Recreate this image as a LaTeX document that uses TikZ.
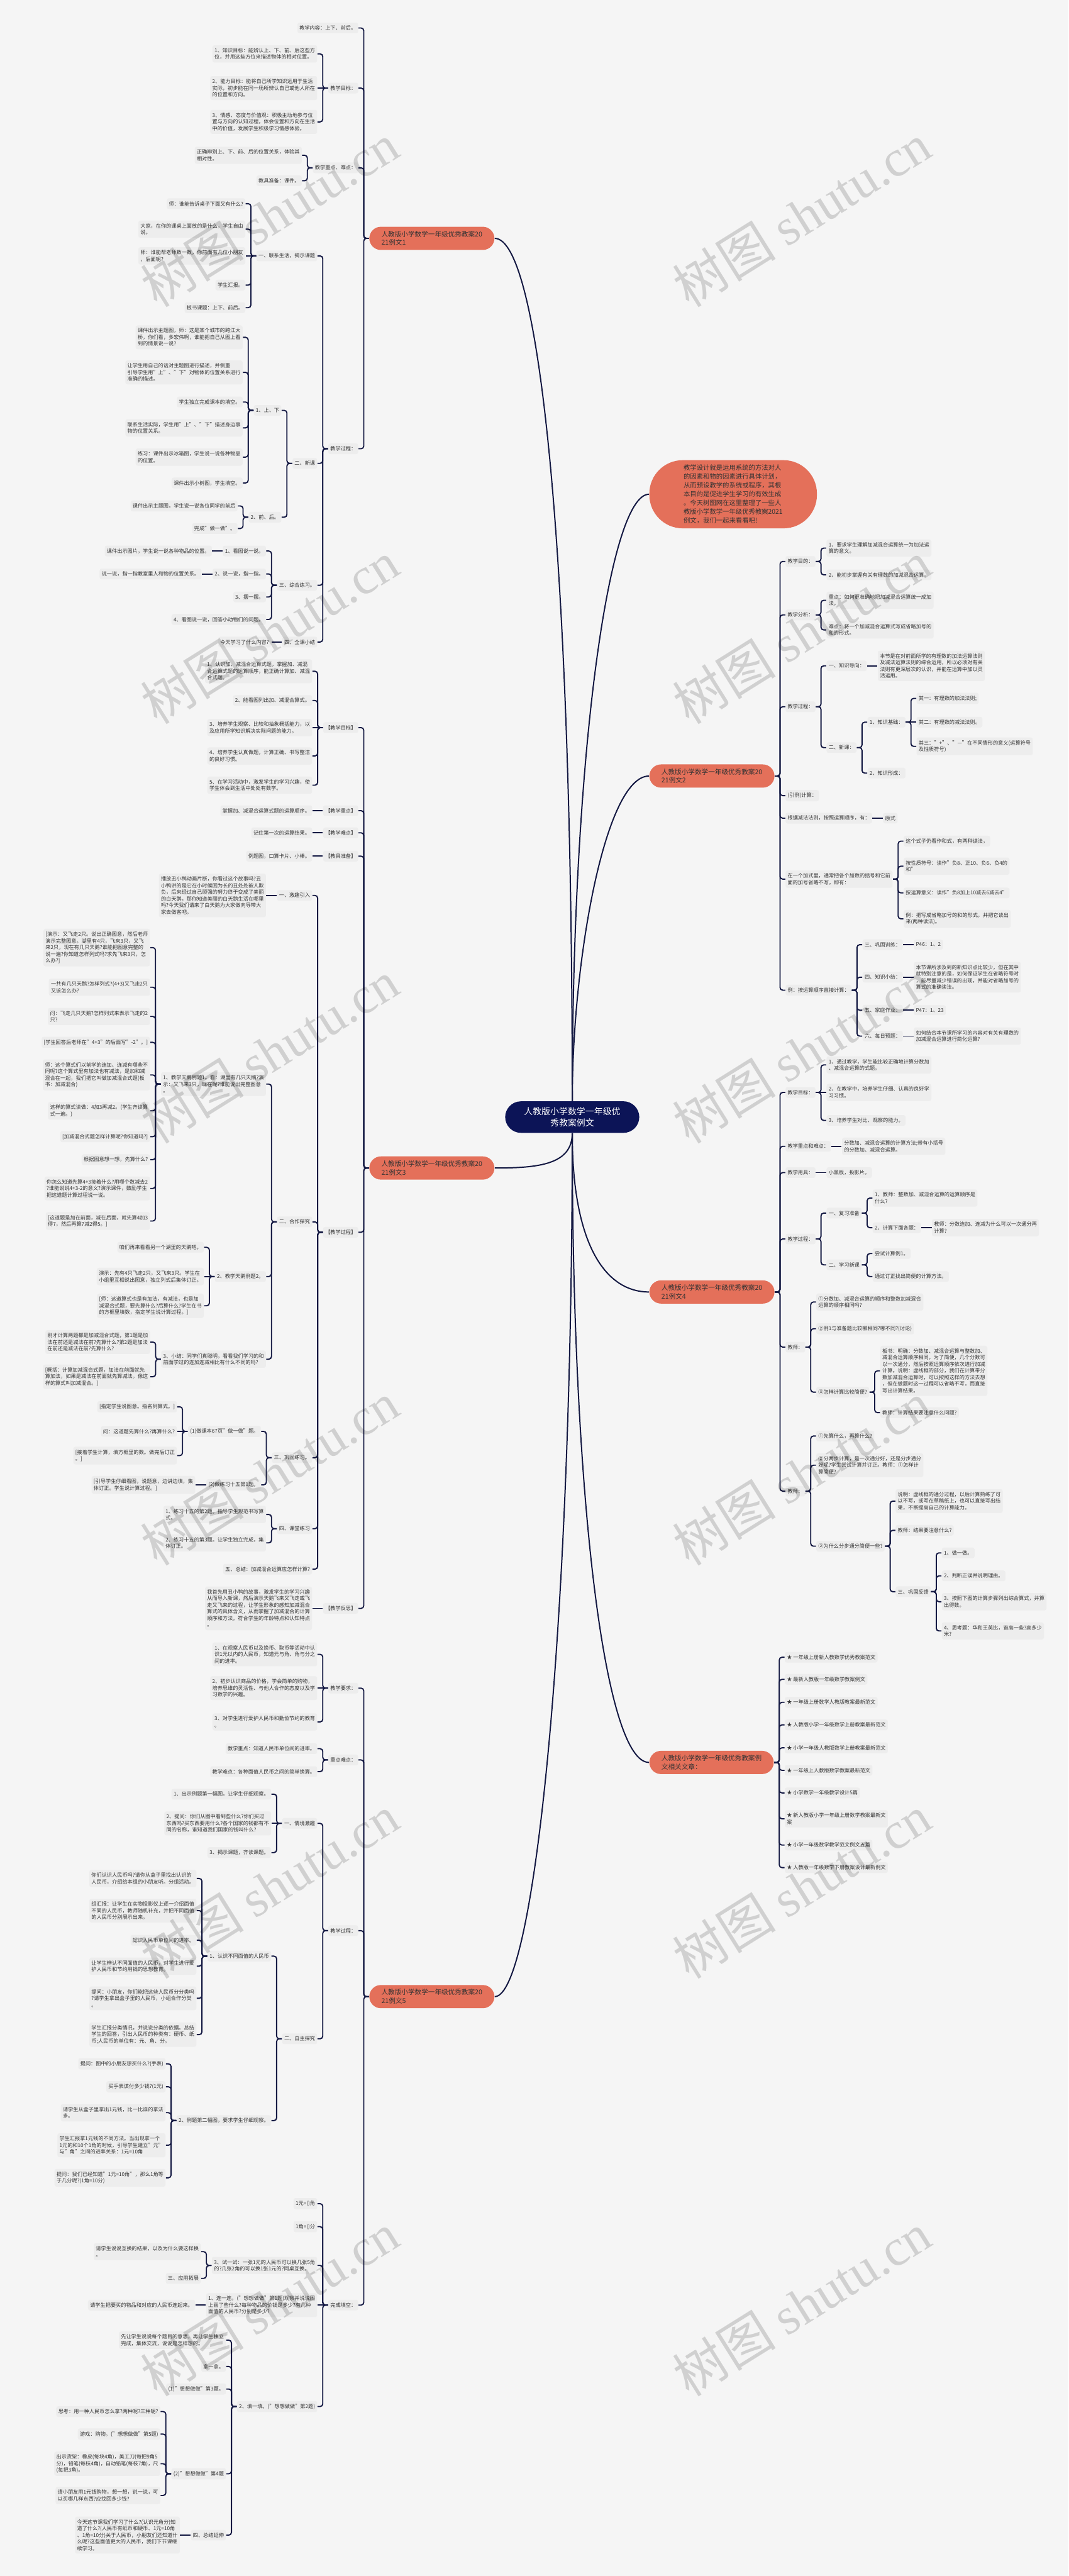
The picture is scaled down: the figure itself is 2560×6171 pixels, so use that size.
\documentclass[tikz,border=0pt]{standalone}
\usepackage{fontspec}
\setmainfont{Noto Sans CJK SC}
\newfontfamily\wmf{Liberation Serif}
\definecolor{bgc}{HTML}{F5F5F5}
\definecolor{boxc}{HTML}{EDEDED}
\definecolor{txtc}{HTML}{333333}
\definecolor{lnc}{HTML}{131842}
\definecolor{orc}{HTML}{E4705A}
\definecolor{navc}{HTML}{0C1457}
\newcommand\fsA{\fontsize{3.08pt}{3.95pt}\selectfont}
\newcommand\fsB{\fontsize{4pt}{5.2pt}\selectfont}
\newcommand\fsD{\fontsize{3.9pt}{5.25pt}\selectfont}
\newcommand\fsC{\fontsize{5.25pt}{7pt}\selectfont}
\tikzset{
  tb/.style={fill=boxc, text=txtc, rounded corners=1.2pt, inner xsep=1.25pt, inner ysep=1.75pt, align=left, font=\fsA},
  con/.style={draw=lnc, line width=0.7pt, rounded corners=1.6pt},
  cv/.style={draw=lnc, line width=0.75pt},
  brn/.style={fill=orc, text=txtc, rounded corners=7pt, inner xsep=7.25pt, inner ysep=2.5pt, align=left, font=\fsB},
  dsc/.style={fill=orc, text=txtc, rounded corners=20pt, inner xsep=20.5pt, inner ysep=2.8pt, align=left, font=\fsD},
  ctr/.style={fill=navc, text=white, rounded corners=9.5pt, inner xsep=11.3pt, inner ysep=3.5pt, align=center, font=\fsC},
  wm/.style={rotate=32, text=black, text opacity=0.15, font=\fontsize{31pt}{31pt}\selectfont}
}
% left child with bracket
\newcommand\NL[4]{\node[tb,anchor=east] (#1) at ([xshift=-6.25pt]#2.west |- 0,#3) {#4};\draw[con] (#2.west) -- ++(-3.125pt,0) |- (#1.east);}
\newcommand\NLs[4]{\node[tb,anchor=east] (#1) at ([xshift=-6.25pt]#2.west |- 0,#3) {#4};\draw[con] (#2.west) -- (#1.east);}
\newcommand\NR[4]{\node[tb,anchor=west] (#1) at ([xshift=6.25pt]#2.east |- 0,#3) {#4};\draw[con] (#2.east) -- ++(3.125pt,0) |- (#1.west);}
\newcommand\NRs[4]{\node[tb,anchor=west] (#1) at ([xshift=6.25pt]#2.east |- 0,#3) {#4};\draw[con] (#2.east) -- (#1.west);}
\begin{document}
\begin{tikzpicture}[x=0.25pt,y=-0.25pt]
\fill[bgc] (0,0) rectangle (2560,6171);
\useasboundingbox (0,0) rectangle (2560,6171);

% ---------- main nodes
\node[ctr] (C) at (1371,2676) {人教版小学数学一年级优\\秀教案例文};
\node[brn,anchor=west] (B1) at (884,571) {人教版小学数学一年级优秀教案20\\21例文1};
\node[dsc,anchor=west] (D) at (1555,1184) {教学设计就是运用系统的方法对人\\的因素和物的因素进行具体计划，\\从而预设教学的系统或程序，其根\\本目的是促进学生学习的有效生成\\。今天树图网在这里整理了一些人\\教版小学数学一年级优秀教案2021\\例文，我们一起来看看吧!};
\node[brn,anchor=west] (B2) at (1555,1859) {人教版小学数学一年级优秀教案20\\21例文2};
\node[brn,anchor=west] (B3) at (884,2798) {人教版小学数学一年级优秀教案20\\21例文3};
\node[brn,anchor=west] (B4) at (1555,3095) {人教版小学数学一年级优秀教案20\\21例文4};
\node[brn,anchor=west] (B5) at (884,4783) {人教版小学数学一年级优秀教案20\\21例文5};
\node[brn,anchor=west] (B6) at (1555,4222) {人教版小学数学一年级优秀教案例\\文相关文章：};

\draw[cv] (C.north) .. controls (1371,1300) and (1290,571) .. (B1.east);
\draw[cv] (C.north) .. controls (1371,1800) and (1460,1184) .. (D.west);
\draw[cv] (C.north) .. controls (1371,2300) and (1450,1859) .. (B2.west);
\draw[cv] (C.south) .. controls (1371,2790) and (1290,2798) .. (B3.east);
\draw[cv] (C.south) .. controls (1371,2980) and (1450,3095) .. (B4.west);
\draw[cv] (C.south) .. controls (1371,3600) and (1450,4222) .. (B6.west);
\draw[cv] (C.south) .. controls (1371,3900) and (1280,4783) .. (B5.east);

% ---------- example 1
\NL{a1}{B1}{67}{教学内容：上下、前后。}
\NL{a2}{B1}{211}{教学目标：}
\NL{a21}{a2}{129}{1、知识目标：能辨认上、下、前、后这些方\\位，并用这些方位来描述物体的相对位置。}
\NLs{a22}{a2}{211}{2、能力目标：能将自己所学知识运用于生活\\实际，初步能在同一场所辨认自己或他人所在\\的位置和方向。}
\NL{a23}{a2}{292}{3、情感、态度与价值观：积极主动地参与位\\置与方向的认知过程，体会位置和方向在生活\\中的价值，发展学生积极学习情感体验。}
\NL{a3}{B1}{402}{教学重点、难点：}
\NL{a31}{a3}{372}{正确辨别上、下、前、后的位置关系，体验其\\相对性。}
\NL{a32}{a3}{433}{教具准备：课件。}
\NL{a4}{B1}{1075}{教学过程：}
\NL{a41}{a4}{613}{一、联系生活，揭示课题}
\NL{a411}{a41}{488}{师：谁能告诉桌子下面又有什么?}
\NL{a412}{a41}{549}{大家，在你的课桌上面放的是什么，学生自由\\说。}
\NLs{a413}{a41}{613}{师：谁能帮老师数一数，你前面有几位小朋友\\，后面呢?}
\NL{a414}{a41}{683}{学生汇报。}
\NL{a415}{a41}{737}{板书课题：上下、前后。}
\NL{a42}{a4}{1110}{二、新课}
\NL{a421}{a42}{983}{1、上、下}
\NL{a4211}{a421}{808}{课件出示主题图，师：这是某个城市的跨江大\\桥，你们看，多宏伟啊，谁能把自己从图上看\\到的情景说一说?}
\NL{a4212}{a421}{892}{让学生用自己的话对主题图进行描述，并侧重\\引导学生用"上"、"下"对物体的位置关系进行\\准确的描述。}
\NL{a4213}{a421}{963}{学生独立完成课本的填空。}
\NL{a4214}{a421}{1025}{联系生活实际，学生用"上"、"下"描述身边事\\物的位置关系。}
\NL{a4215}{a421}{1095}{练习：课件出示冰箱图，学生说一说各种物品\\的位置。}
\NL{a4216}{a421}{1157}{课件出示小树图，学生填空。}
\NL{a422}{a42}{1239}{2、前、后。}
\NL{a4221}{a422}{1212}{课件出示主题图，学生说一说各位同学的前后}
\NL{a4222}{a422}{1266}{完成"做一做"。}
\NL{a43}{a4}{1402}{三、综合练习。}
\NL{a431}{a43}{1320}{1、看图说一说。}
\NLs{a4311}{a431}{1320}{课件出示图片，学生说一说各种物品的位置。}
\NL{a432}{a43}{1375}{2、说一说，指一指。}
\NLs{a4321}{a432}{1375}{说一说，指一指教室里人和物的位置关系。}
\NL{a433}{a43}{1430}{3、摆一摆。}
\NL{a434}{a43}{1484}{4、看图说一说，回答小动物们的问题。}
\NL{a44}{a4}{1538}{四、全课小结}
\NLs{a441}{a44}{1538}{今天学习了什么内容?}

% ---------- example 3
\NL{c1}{B3}{1743}{【教学目标】}
\NL{c11}{c1}{1608}{1、认识加、减混合运算式题，掌握加、减混\\合运算式题的运算顺序，能正确计算加、减混\\合式题。}
\NL{c12}{c1}{1678}{2、能看图列出加、减混合算式。}
\NLs{c13}{c1}{1743}{3、培养学生观察、比较和抽象概括能力，以\\及应用所学知识解决实际问题的能力。}
\NL{c14}{c1}{1811}{4、培养学生认真做题，计算正确、书写整洁\\的良好习惯。}
\NL{c15}{c1}{1881}{5、在学习活动中，激发学生的学习兴趣，使\\学生体会到生活中处处有数学。}
\NL{c2}{B3}{1942}{【教学重点】}
\NLs{c21}{c2}{1942}{掌握加、减混合运算式题的运算顺序。}
\NL{c3}{B3}{1995}{【教学难点】}
\NLs{c31}{c3}{1995}{记住第一次的运算结果。}
\NL{c4}{B3}{2051}{【教具准备】}
\NLs{c41}{c4}{2051}{例题图，口算卡片、小棒。}
\NL{c5}{B3}{2952}{【教学过程】}
\NL{c51}{c5}{2145}{一、激趣引入}
\NLs{c511}{c51}{2145}{播放丑小鸭动画片断，你看过这个故事吗?丑\\小鸭讲的是它在小时候因为长的丑处处被人欺\\负，后来经过自己顽强的努力终于变成了美丽\\的白天鹅，那你知道美丽的白天鹅生活在哪里\\吗?今天我们请来了白天鹅为大家做向导带大\\家去做客吧。}
\NL{c52}{c5}{2927}{二、合作探究}
\NL{c521}{c52}{2597}{1、教学天鹅例题1。看：湖里有几只天鹅?演\\示：又飞来3只，现在呢?谁能说出完整图意\\。}
\NL{c5211}{c521}{2270}{[演示：又飞走2只。说出正确图意，然后老师\\演示完整图意。湖里有4只，飞来3只，又飞\\来2只，现在有几只天鹅?谁能把图意完整的\\说一遍?你知道怎样列式吗?求先飞来3只，怎\\么办?]}
\NL{c5212}{c521}{2365}{一共有几只天鹅?怎样列式?(4+3)又飞走2只\\又该怎么办?}
\NL{c5213}{c521}{2435}{问：飞走几只天鹅?怎样列式来表示飞走的2\\只?}
\NL{c5214}{c521}{2497}{[学生回答后老师在"4+3"的后面写"-2"。]}
\NL{c5215}{c521}{2575}{师：这个算式们以前学的连加、连减有哪些不\\同呢?这个算式里有加法也有减法，是加和减\\混合在一起，我们把它叫做加减混合式题(板\\书：加减混合)}
\NL{c5216}{c521}{2661}{这样的算式读做：4加3再减2。(学生齐读算\\式一遍。)}
\NL{c5217}{c521}{2723}{[加减混合式题怎样计算呢?你知道吗?]}
\NL{c5218}{c521}{2778}{根据图意想一想，先算什么?}
\NL{c5219}{c521}{2847}{你怎么知道先算4+3接着什么?用哪个数减去2\\?谁能说说4+3-2的意义?演示课件，鼓励学生\\把这道题计算过程说一说。}
\NL{c521a}{c521}{2925}{[这道题是加在前面，减在后面，就先算4加3\\得7，然后再算7减2得5。]}
\NL{c522}{c52}{3058}{2、教学天鹅例题2。}
\NL{c5221}{c522}{2988}{咱们再来看看另一个湖里的天鹅吧。}
\NLs{c5222}{c522}{3058}{演示：先有4只飞走2只，又飞来3只。学生在\\小组里互相说出图意，独立列式后集体订正。}
\NL{c5223}{c522}{3128}{[师：这道算式也是有加法，有减法，也是加\\减混合式题，要先算什么?后算什么?学生在书\\的方框里填数，指定学生说计算过程。]}
\NL{c523}{c52}{3256}{3、小结：同学们真聪明，看看我们学习的和\\前面学过的连加连减相比有什么不同的吗?}
\NL{c5231}{c523}{3215}{刚才计算两题都是加减混合式题，第1题是加\\法在前还是减法在前?先算什么?第2题是加法\\在前还是减法在前?先算什么?}
\NL{c5232}{c523}{3298}{[概括：计算加减混合式题，加法在前面就先\\算加法，如果是减法在前面就先算减法。像这\\样的算式叫加减混合。]}
\NL{c53}{c5}{3492}{三、巩固练习。}
\NL{c531}{c53}{3429}{(1)做课本67页"做一做"题。}
\NL{c5311}{c531}{3370}{[指定学生说图意。指名列算式。]}
\NLs{c5312}{c531}{3429}{问：这道题先算什么?再算什么?}
\NL{c5313}{c531}{3487}{[接着学生计算，填方框里的数。做完后订正\\。]}
\NL{c532}{c53}{3557}{(2)做练习十五第1题。}
\NLs{c5321}{c532}{3557}{[引导学生仔细看图，说题意，边讲边填，集\\体订正。学生说计算过程。]}
\NL{c54}{c5}{3662}{四、课堂练习}
\NL{c541}{c54}{3628}{1、练习十五的第2题。指导学生规范书写算\\式。}
\NL{c542}{c54}{3696}{2、练习十五的第3题。让学生独立完成，集\\体订正。}
\NL{c55}{c5}{3759}{五、总结：加减混合运算应怎样计算?}
\NL{c6}{B3}{3853}{【教学反思】}
\NLs{c61}{c6}{3853}{我首先用丑小鸭的故事，激发学生的学习兴趣\\从而导入新课，然后演示天鹅飞来又飞走或飞\\走又飞来的过程，让学生形象的感知加减混合\\算式的具体含义，从而掌握了加减混合的计算\\顺序和方法。符合学生的年龄特点和认知特点\\。}

% ---------- example 5
\NL{e1}{B5}{4044}{教学要求：}
\NL{e11}{e1}{3963}{1、在观察人民币以及换币、取币等活动中认\\识1元以内的人民币，知道元与角、角与分之\\间的进率。}
\NLs{e12}{e1}{4044}{2、初步认识商品的价格，学会简单的购物，\\培养思维的灵活性、与他人合作的态度以及学\\习数学的兴趣。}
\NL{e13}{e1}{4125}{3、对学生进行爱护人民币和勤俭节约的教育\\。}
\NL{e2}{B5}{4216}{重点难点：}
\NL{e21}{e2}{4189}{教学重点：知道人民币单位间的进率。}
\NL{e22}{e2}{4244}{教学难点：各种面值人民币之间的简单换算。}
\NL{e3}{B5}{4625}{教学过程：}
\NL{e31}{e3}{4368}{一、情境激趣}
\NL{e311}{e31}{4298}{1、出示例题第一幅图，让学生仔细观察。}
\NLs{e312}{e31}{4368}{2、提问：你们从图中看到些什么?你们买过\\东西吗?买东西要用什么?各个国家的钱都有不\\同的名称，谁知道我们国家的钱叫什么?}
\NL{e313}{e31}{4438}{3、揭示课题，齐读课题。}
\NL{e32}{e3}{4884}{二、自主探究}
\NL{e321}{e32}{4686}{1、认识不同面值的人民币}
\NL{e3211}{e321}{4500}{你们认识人民币吗?请你从盒子里找出认识的\\人民币，介绍给本组的小朋友听。分组活动。}
\NL{e3212}{e321}{4577}{组汇报：让学生在实物投影仪上逐一介绍面值\\不同的人民币，教师随机补充，并把不同面值\\的人民币分别展示出来。}
\NL{e3213}{e321}{4648}{認识人民币单位间的进率。}
\NL{e3214}{e321}{4710}{让学生辨认不同面值的人民币，对学生进行爱\\护人民币和节约用钱的思想教育。}
\NL{e3215}{e321}{4787}{提问：小朋友，你们能把这些人民币分分类吗\\?请学生拿出盒子里的人民币，小组合作分类\\。}
\NL{e3216}{e321}{4874}{学生汇报分类情况，并说说分类的依据。总结\\学生的回答，引出人民币的种类有：硬币、纸\\币;人民币的单位有：元、角、分。}
\NL{e322}{e32}{5080}{2、例题第二幅图，要求学生仔细观察。}
\NL{e3221}{e322}{4944}{提问：图中的小朋友想买什么?(手表)}
\NL{e3222}{e322}{4999}{买手表该付多少钱?(1元)}
\NL{e3223}{e322}{5061}{请学生从盒子里拿出1元钱，比一比谁的拿法\\多。}
\NL{e3224}{e322}{5139}{学生汇报拿1元钱的不同方法。当出现拿一个\\1元的和10个1角的时候，引导学生建立"元"\\与"角"之间的进率关系：1元=10角}
\NL{e3225}{e322}{5217}{提问：我们已经知道"1元=10角"，那么1角等\\于几分呢?(1角=10分)}
\NL{e4}{B5}{5522}{完成填空：}
\NL{e41}{e4}{5279}{1元=()角}
\NL{e42}{e4}{5334}{1角=()分}
\NL{e43}{e4}{5427}{3、试一试：一张1元的人民币可以换几张5角\\的?几张2角的可以换1张1元的?同桌互换。}
\NL{e431}{e43}{5394}{请学生说说互换的结果，以及为什么要这样换\\。}
\NL{e432}{e43}{5458}{三、应用拓展}
\NLs{e44}{e4}{5522}{1、连一连。("想想做做"第1题)观察并说说图\\上画了些什么?每种物品的价钱是多少?有几种\\面值的人民币?分别是多少?}
\NLs{e441}{e44}{5522}{请学生把要买的物品和对应的人民币连起来。}
\NL{e45}{e4}{5765}{2、填一填。("想想做做"第2题)}
\NL{e451}{e45}{5606}{先让学生说说每个题目的意思，再让学生独立\\完成，集体交流，说说是怎样想的。}
\NL{e452}{e45}{5669}{拿一拿。}
\NL{e453}{e45}{5723}{(1)"想想做做"第3题。}
\NL{e454}{e45}{5926}{(2)"想想做做"第4题}
\NL{e4541}{e454}{5777}{思考：用一种人民币怎么拿?两种呢?三种呢?}
\NL{e4542}{e454}{5831}{游戏：购物。("想想做做"第5题)}
\NL{e4543}{e454}{5902}{出示货架：橡皮(每块4角)，美工刀(每把9角5\\分)，铅笔(每枝4角)，自动铅笔(每枝7角)，尺\\(每把3角)。}
\NL{e4544}{e454}{5978}{请小朋友用1元钱购物，想一想，说一说，可\\以买哪几样东西?应找回多少钱?}
\NL{e455}{e45}{6073}{四、总结延伸}
\NLs{e4551}{e455}{6073}{今天这节课我们学习了什么?(认识元角分)知\\道了什么?(人民币有纸币和硬币、1元=10角\\、1角=10分)关于人民币，小朋友们还知道什\\么呢?这些面值更大的人民币，我们下节课继\\续学习。}

% ---------- example 2
\NR{b1}{B2}{1345}{教学目的：}
\NR{b11}{b1}{1313}{1、要求学生理解加减混合运算统一为加法运\\算的意义。}
\NR{b12}{b1}{1377}{2、能初步掌握有关有理数的加减混合运算。}
\NR{b2}{B2}{1473}{教学分析：}
\NR{b21}{b2}{1438}{重点：如何更准确地把加减混合运算统一成加\\法。}
\NR{b22}{b2}{1509}{难点：将一个加减混合运算式写成省略加号的\\和的形式。}
\NR{b3}{B2}{1693}{教学过程：}
\NR{b31}{b3}{1595}{一、知识导向：}
\NRs{b311}{b31}{1595}{本节是在对前面所学的有理数的加法运算法则\\及减法运算法则的综合运用，所以必须对有关\\法则有更深层次的认识，并能在运算中加以灵\\活运用。}
\NR{b32}{b3}{1791}{二、新课：}
\NR{b321}{b32}{1730}{1、知识基础：}
\NR{b3211}{b321}{1673}{其一：有理数的加法法则;}
\NRs{b3212}{b321}{1730}{其二：有理数的减法法则。}
\NR{b3213}{b321}{1788}{其三："+"、"—"在不同情形的意义(运算符号\\及性质符号)}
\NR{b322}{b32}{1852}{2、知识形成：}
\NR{b4}{B2}{1906}{(引例)计算：}
\NR{b5}{B2}{1960}{根据减法法则，按照运算顺序，有：}
\NRs{b51}{b5}{1960}{原式}
\NR{b6}{B2}{2106}{在一个加式里，通常把各个加数的括号和它前\\面的加号省略不写，即有：}
\NR{b61}{b6}{2015}{这个式子仍看作和式，有两种读法，}
\NR{b62}{b6}{2075}{按性质符号：读作"负8、正10、负6、负4的\\和"}
\NR{b63}{b6}{2139}{按运算意义：读作"负8加上10减去6减去4"}
\NR{b64}{b6}{2201}{例：把写成省略加号的和的形式，并把它读出\\来(两种读法)。}
\NR{b7}{B2}{2372}{例：按运算顺序直接计算：}
\NR{b71}{b7}{2263}{三、巩固训练：}
\NRs{b711}{b71}{2263}{P46：1、2}
\NR{b72}{b7}{2341}{四、知识小结：}
\NRs{b721}{b72}{2341}{本节课所涉及到的新知识点比较少，但在其中\\就特别注意的是，如何保证学生在省略符号时\\，能尽量减少错误的出现，并能对省略加号的\\算式的准确读法。}
\NR{b73}{b7}{2420}{五、家庭作业：}
\NRs{b731}{b73}{2420}{P47：1、23}
\NR{b74}{b7}{2482}{六、每日预题：}
\NRs{b741}{b74}{2482}{如何结合本节课所学习的内容对有关有理数的\\加减混合运算进行简化运算?}

% ---------- example 4
\NR{d1}{B4}{2617}{教学目标：}
\NR{d11}{d1}{2551}{1、通过教学，学生能比较正确地计算分数加\\、减混合运算的式题。}
\NRs{d12}{d1}{2617}{2、在教学中，培养学生仔细、认真的良好学\\习习惯。}
\NR{d13}{d1}{2684}{3、培养学生对比、观察的能力。}
\NR{d2}{B4}{2746}{教学重点和难点：}
\NRs{d21}{d2}{2746}{分数加、减混合运算的计算方法;带有小括号\\的分数加、减混合运算。}
\NR{d3}{B4}{2809}{教学用具：}
\NRs{d31}{d3}{2809}{小黑板，投影片。}
\NR{d4}{B4}{2968}{教学过程：}
\NR{d41}{d4}{2906}{一、复习准备}
\NR{d411}{d41}{2870}{1、教师：整数加、减混合运算的运算顺序是\\什么?}
\NR{d412}{d41}{2941}{2、计算下面各题：}
\NRs{d4121}{d412}{2941}{教师：分数连加、连减为什么可以一次通分再\\计算?}
\NR{d42}{d4}{3030}{二、学习新课}
\NR{d421}{d42}{3003}{尝试计算例1。}
\NR{d422}{d42}{3058}{通过订正找出简便的计算方法。}
\NR{d5}{B4}{3227}{教师：}
\NR{d51}{d5}{3119}{①分数加、减混合运算的顺序和整数加减混合\\运算的顺序相同吗?}
\NR{d52}{d5}{3183}{②例1与准备题比较哪相同?哪不同?(讨论)}
\NR{d53}{d5}{3335}{③怎样计算比较简便?}
\NR{d531}{d53}{3284}{板书：明确：分数加、减混合运算与整数加、\\减混合运算顺序相同，为了简便，几个分数可\\以一次通分，然后按照运算顺序依次进行加减\\计算。说明：虚线框的部分，我们在计算带分\\数加减混合运算时，可以按照这样的方法去想\\，但在做题时这一过程可以省略不写，而直接\\写出计算结果。}
\NR{d532}{d53}{3384}{教师：计算结果要注意什么问题?}
\NR{d6}{B4}{3572}{教师：}
\NR{d61}{d6}{3440}{①先算什么，再算什么?}
\NR{d62}{d6}{3510}{②分两步计算，是一次通分好，还是分步通分\\好呢?学生尝试计算并订正。教师：①怎样计\\算简便?}
\NR{d63}{d6}{3704}{②为什么分步通分简便一些?}
\NR{d631}{d63}{3596}{说明：虚线框的通分过程，以后计算熟练了可\\以不写，或写在草稿纸上，也可以直接写出结\\果，不断提高自己的计算能力。}
\NR{d632}{d63}{3666}{教师：结果要注意什么?}
\NR{d633}{d63}{3813}{三、巩固反馈}
\NR{d6331}{d633}{3720}{1、做一做。}
\NR{d6332}{d633}{3775}{2、判断正误并说明理由。}
\NR{d6333}{d633}{3837}{3、按照下图的计算步骤列出综合算式，并算\\出得数。}
\NR{d6334}{d633}{3907}{4、思考题：华和王英比，谁高一些?高多少\\米?}

% ---------- related articles
\NR{f1}{B6}{3970}{★ 一年级上册新人教数学优秀教案范文}
\NR{f2}{B6}{4023}{★ 最新人教版一年级数学教案例文}
\NR{f3}{B6}{4078}{★ 一年级上册数学人教版教案最新范文}
\NR{f4}{B6}{4132}{★ 人教版小学一年级数学上册教案最新范文}
\NR{f5}{B6}{4187}{★ 小学一年级人教版数学上册教案最新范文}
\NR{f6}{B6}{4241}{★ 一年级上人教版数学教案最新范文}
\NR{f7}{B6}{4295}{★ 小学数学一年级教学设计5篇}
\NR{f8}{B6}{4357}{★ 新人教版小学一年级上册数学教案最新文\\案}
\NR{f9}{B6}{4420}{★ 小学一年级数学教学范文例文五篇}
\NR{f10}{B6}{4474}{★ 人教版一年级数学下册教案设计最新例文}

% ---------- watermarks
\foreach \yy in {515,1515,2520,3530,4520,5520} {
  \node[wm] at (646,\yy) {树图 {\wmf shutu.cn}};
  \node[wm] at (1921,\yy) {树图 {\wmf shutu.cn}};
}
\end{tikzpicture}
\end{document}
